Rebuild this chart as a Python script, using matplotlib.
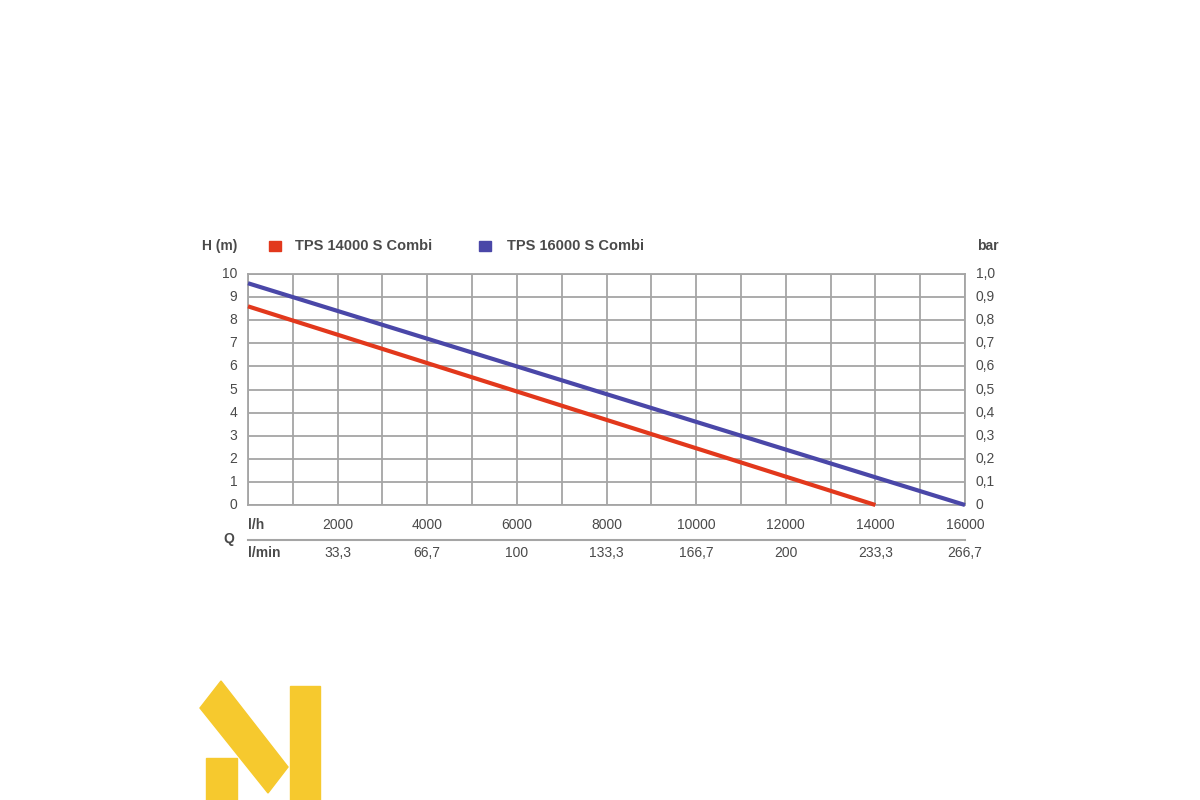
import matplotlib
matplotlib.use("Agg")
import matplotlib.pyplot as plt
from matplotlib.patches import Polygon, Rectangle

plt.rcParams['font.family'] = ['Liberation Sans', 'DejaVu Sans']

# Data
flow_lh = [0, 14000]
head_14000 = [8.6, 0.0]
flow_lh_16 = [0, 16000]
head_16000 = [9.6, 0.0]
series_names = ["TPS 14000 S Combi", "TPS 16000 S Combi"]
series_colors = ["#e2381c", "#4a47a8"]
xtick_lh = [2000, 4000, 6000, 8000, 10000, 12000, 14000, 16000]
xtick_lmin = ["33,3", "66,7", "100", "133,3", "166,7", "200", "233,3", "266,7"]
ytick_left = list(range(0, 11))
ytick_right = ["0", "0,1", "0,2", "0,3", "0,4", "0,5", "0,6", "0,7", "0,8", "0,9", "1,0"]

W, H = 1200, 800
fig = plt.figure(figsize=(12, 8), dpi=100)
fig.patch.set_facecolor("white")

def fx(px): return px / W
def fy(py): return 1 - py / H

x0, x1, ytop, ybot = 248, 965, 274, 505
ax = fig.add_axes([fx(x0), fy(ybot), fx(x1) - fx(x0), fy(ytop) - fy(ybot)])
ax.set_xlim(0, 16000)
ax.set_ylim(0, 10)
ax.set_xticks(range(0, 16001, 1000))
ax.set_yticks(ytick_left)
ax.grid(True, color="#a5a5a5", linewidth=1.3)
ax.tick_params(length=0, labelbottom=False, labelleft=False)
for s in ax.spines.values():
    s.set_color("#a5a5a5")
    s.set_linewidth(1.3)

ax.plot(flow_lh, head_14000, color=series_colors[0], linewidth=3, solid_capstyle="butt", zorder=3, clip_on=False)
ax.plot(flow_lh_16, head_16000, color=series_colors[1], linewidth=3, solid_capstyle="butt", zorder=3, clip_on=False)

tc = "#4a4a4a"
fs = 10
trans_y = ax.get_yaxis_transform()
for v in ytick_left:
    ax.text(-0.015, v, str(v), transform=trans_y, ha="right", va="center", fontsize=fs, color=tc)
for v, lab in zip(ytick_left, ytick_right):
    ax.text(1.015, v, lab, transform=trans_y, ha="left", va="center", fontsize=fs, color=tc)

trans_x = ax.get_xaxis_transform()
y_lh = -(525 - ybot) / (ybot - ytop)
y_lmin = -(553 - ybot) / (ybot - ytop)
y_sep = -(540 - ybot) / (ybot - ytop)
for v in xtick_lh:
    ax.text(v, y_lh, str(v), transform=trans_x, ha="center", va="center", fontsize=fs, color=tc)
for v, lab in zip(xtick_lh, xtick_lmin):
    ax.text(v, y_lmin, lab, transform=trans_x, ha="center", va="center", fontsize=fs, color=tc)
ax.plot([0, 16000], [y_sep, y_sep], transform=trans_x, color="#a5a5a5", linewidth=1.5, clip_on=False)
ax.text(0, y_lh, "l/h", transform=trans_x, ha="left", va="center", fontsize=fs, color=tc, fontweight="bold")
ax.text(0, y_lmin, "l/min", transform=trans_x, ha="left", va="center", fontsize=fs, color=tc, fontweight="bold")
fig.text(fx(229), fy(539), "Q", ha="center", va="center", fontsize=fs, color=tc, fontweight="bold")

# Header
hfs = 10.5
fig.text(fx(237), fy(246), "H (m)", ha="right", va="center", fontsize=fs, color=tc, fontweight="bold")
fig.text(fx(999), fy(246), "bar", ha="right", va="center", fontsize=fs, color=tc, fontweight="bold")
for (sx, tx), name, col in zip([(269, 295), (479, 507)], series_names, series_colors):
    fig.patches.append(Rectangle((fx(sx), fy(251)), fx(12), 10 / H, transform=fig.transFigure, color=col))
    fig.text(fx(tx), fy(246), name, ha="left", va="center", fontsize=hfs, color=tc, fontweight="bold")

# Logo
yel = "#f6c92e"
fig.patches.append(Rectangle((fx(206), fy(800)), fx(31), 42 / H, transform=fig.transFigure, color=yel))
fig.patches.append(Rectangle((fx(290), fy(800)), fx(30), 114 / H, transform=fig.transFigure, color=yel))
poly = [(221, 681), (288, 767), (268, 793), (200, 708)]
fig.patches.append(Polygon([(fx(a), fy(b)) for a, b in poly], closed=True, transform=fig.transFigure, color=yel))

fig.savefig("out.png", dpi=100, facecolor="white")
